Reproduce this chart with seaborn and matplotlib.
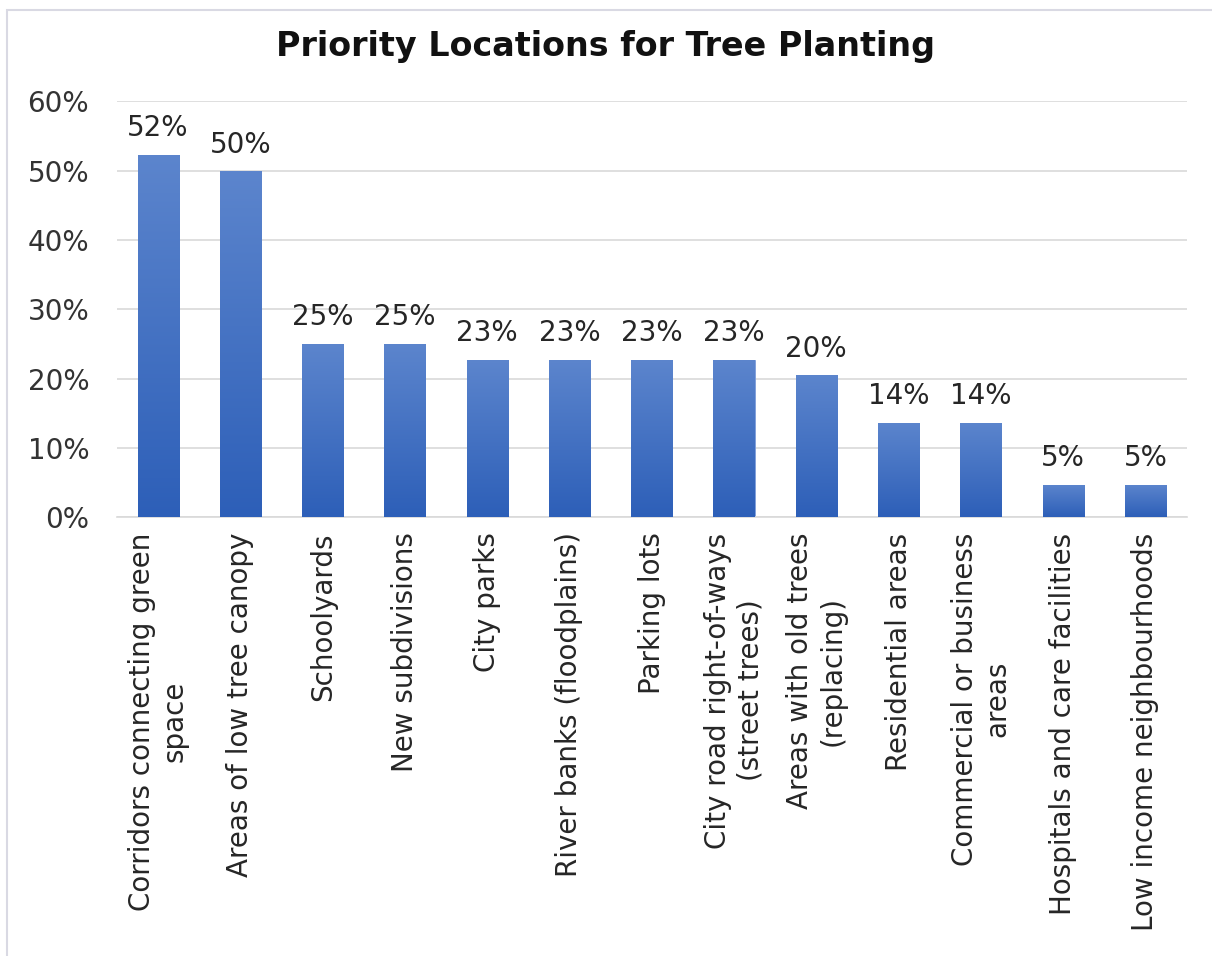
import numpy as np
import pandas as pd
import matplotlib.pyplot as plt
import matplotlib.colors as mcolors
from matplotlib.patches import Rectangle
import seaborn as sns

categories = [
    "Corridors connecting green\nspace",
    "Areas of low tree canopy",
    "Schoolyards",
    "New subdivisions",
    "City parks",
    "River banks (floodplains)",
    "Parking lots",
    "City road right-of-ways\n(street trees)",
    "Areas with old trees\n(replacing)",
    "Residential areas",
    "Commercial or business\nareas",
    "Hospitals and care facilities",
    "Low income neighbourhoods",
]
shares = [52.3, 49.9, 25.0, 25.0, 22.7, 22.7, 22.7, 22.7, 20.5, 13.6, 13.6, 4.7, 4.7]
y_ticks = [0, 10, 20, 30, 40, 50, 60]

df = pd.DataFrame({"location": categories, "share": shares})

sns.set_theme(style="white")
plt.rcParams["font.family"] = ["DejaVu Sans"]

fig = plt.figure(figsize=(12.12, 9.56), dpi=100)
ax = fig.add_axes([0.0965, 0.459, 0.8825, 0.435])

sns.barplot(data=df, x="location", y="share", color="#3f6dc4", width=0.5,
            saturation=1, ax=ax, zorder=2)

# vertical gradient on each bar (lighter at top)
grad_cmap = mcolors.LinearSegmentedColormap.from_list("bar", ["#2d5fb8", "#5c85cd"])
grad = np.linspace(0, 1, 256).reshape(-1, 1)
for bar in ax.patches:
    x0, y0 = bar.get_x(), bar.get_y()
    w, h = bar.get_width(), bar.get_height()
    im = ax.imshow(grad, cmap=grad_cmap, origin="lower", aspect="auto",
                   extent=[x0, x0 + w, y0, y0 + h], zorder=3)
    im.set_clip_path(bar)
    bar.set_edgecolor("#7f9fdb")
    bar.set_linewidth(0.6)

fs = 20
for i, v in enumerate(shares):
    ax.annotate(f"{v:.0f}%", (i, v), xytext=(0, 9), textcoords="offset points",
                ha="center", va="bottom", fontsize=fs, color="#262626", zorder=4)

ax.set_xlim(-0.5, len(categories) - 0.5)
ax.set_ylim(0, 60)
ax.set_yticks(y_ticks)
ax.set_yticklabels([f"{t}%" for t in y_ticks], fontsize=fs, color="#333333")
ax.yaxis.grid(True, color="#d9d9d9", linewidth=1.2, zorder=0)
ax.set_axisbelow(True)
for s in ["top", "right", "left"]:
    ax.spines[s].set_visible(False)
ax.spines["bottom"].set_color("#d9d9d9")
ax.spines["bottom"].set_linewidth(1.2)
ax.tick_params(axis="y", length=0, pad=20)
ax.tick_params(axis="x", length=0, pad=11)
ax.set_xticks(range(len(categories)))
ax.set_xticklabels(categories, rotation=90, fontsize=fs, color="#262626",
                   ha="center", va="top", multialignment="center")
ax.set_xlabel("")
ax.set_ylabel("")

fig.text(0.5, 0.951, "Priority Locations for Tree Planting", ha="center",
         va="center", fontsize=24, fontweight="bold", color="#111111")

# light outer frame
fig.patches.append(Rectangle((0.006, -0.01), 1.1, 1.0, transform=fig.transFigure,
                             fill=False, edgecolor="#d9d9e3", linewidth=1.5))

fig.savefig("out.png", dpi=100)
